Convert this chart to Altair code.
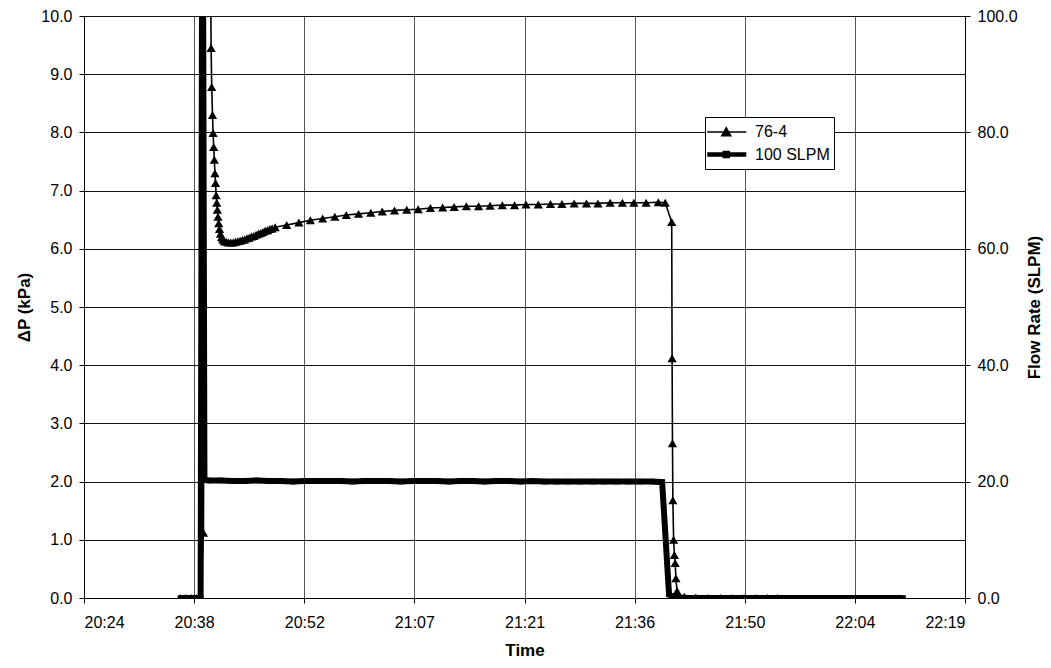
import altair as alt
import pandas as pd

# ---------------- data ----------------
# time is given in minutes after 20:24
series_names = ["76-4", "100 SLPM"]

dp_time = [12.6, 13.3, 14.0, 14.7, 15.25, 15.62, 15.9, 16.5,
           16.62, 16.70, 16.80, 16.88, 16.96, 17.04, 17.12, 17.20, 17.28, 17.36, 17.44, 17.52,
           17.62, 17.72, 17.84, 17.98,
           18.15, 18.35, 18.6, 18.9, 19.2, 19.5, 19.8, 20.1, 20.4, 20.7, 21.0, 21.3, 21.6, 21.9,
           22.2, 22.5, 22.8, 23.1, 23.4, 23.7, 24.0, 24.3, 24.6, 25.0,
           26.5, 28.1, 29.6, 31.2, 32.8, 34.3, 35.9, 37.5, 39.0, 40.6, 42.2, 43.7, 45.3, 46.9,
           48.4, 50.0, 51.6, 53.1, 54.7, 56.3, 57.8, 59.4, 61.0, 62.5, 64.1, 65.7, 67.2, 68.8,
           70.4, 71.9, 73.5, 75.1,
           76.0, 76.85, 76.9, 76.95, 77.0, 77.1, 77.2, 77.3, 77.4, 77.55, 77.7,
           78.5, 80.0, 81.6, 83.2, 84.7, 86.3, 87.9, 89.4, 90.7]
dp_kpa = [0.0, 0.0, 0.0, 0.0, 0.0, 1.12, 16.0, 12.0,
          9.45, 8.78, 8.30, 7.99, 7.75, 7.53, 7.30, 7.13, 6.92, 6.79, 6.67, 6.55,
          6.44, 6.34, 6.26, 6.20,
          6.16, 6.13, 6.12, 6.11, 6.11, 6.11, 6.12, 6.13, 6.14, 6.15, 6.16, 6.18, 6.19, 6.21,
          6.22, 6.24, 6.26, 6.27, 6.29, 6.31, 6.32, 6.34, 6.35, 6.37,
          6.41, 6.45, 6.49, 6.52, 6.55, 6.58, 6.60, 6.62, 6.64, 6.66, 6.67, 6.68, 6.70, 6.71,
          6.72, 6.73, 6.73, 6.74, 6.75, 6.75, 6.76, 6.76, 6.77, 6.77, 6.78, 6.78, 6.78, 6.79,
          6.79, 6.79, 6.79, 6.80,
          6.79, 6.46, 4.12, 2.66, 1.68, 1.00, 0.74, 0.60, 0.34, 0.12, 0.04,
          0.02, 0.01, 0.0, 0.0, 0.0, 0.0, 0.0, 0.0, 0.0]

flow_time = [12.6, 13.3, 14.0, 14.7, 15.25, 15.5, 15.75,
             16.3, 17.9, 19.5, 21.0, 22.6, 24.2, 25.7, 27.3, 28.9, 30.4, 32.0, 33.6, 35.1,
             36.7, 38.3, 39.8, 41.4, 43.0, 44.5, 46.1, 47.7, 49.2, 50.8, 52.4, 53.9, 55.5,
             57.1, 58.6, 60.2, 61.8, 63.3, 64.9, 66.5, 68.0, 69.6, 71.2, 72.7, 74.3, 75.6,
             76.5, 77.0, 77.6,
             79.2, 80.7, 82.3, 83.9, 85.4, 87.0, 88.6, 90.1, 91.7, 93.3, 94.8, 96.4, 98.0,
             99.5, 101.1, 102.7, 104.2, 105.8, 107.1]
flow_slpm = [0.0, 0.0, 0.0, 0.0, 0.0, 140.0, 20.3,
             20.2, 20.2, 20.1, 20.1, 20.2, 20.1, 20.1, 20.0, 20.1, 20.1, 20.1, 20.1, 20.0,
             20.1, 20.1, 20.1, 20.0, 20.1, 20.1, 20.1, 20.0, 20.1, 20.1, 20.0, 20.1, 20.1,
             20.0, 20.1, 20.0, 20.0, 20.0, 20.0, 20.0, 20.0, 20.0, 20.0, 20.0, 20.0, 19.9,
             0.6, 0.3, 0.1,
             0.0, 0.0, 0.0, 0.0, 0.0, 0.0, 0.0, 0.0, 0.0, 0.0, 0.0, 0.0, 0.0,
             0.0, 0.0, 0.0, 0.0, 0.0, 0.0]

x_tick_values = [0.0, 14.4, 28.8, 43.2, 57.6, 72.0, 86.4, 100.8, 115.2]
dp_ticks = [0, 1, 2, 3, 4, 5, 6, 7, 8, 9, 10]
flow_ticks = [0, 20, 40, 60, 80, 100]

df = pd.concat([
    pd.DataFrame({"t": dp_time, "val": dp_kpa, "series": series_names[0]}),
    pd.DataFrame({"t": flow_time, "val": flow_slpm, "series": series_names[1]}),
], ignore_index=True)

FONT = "Liberation Sans"

label_expr = ("floor((1224 + datum.value) / 60) + ':' + "
              "(floor((1224 + datum.value) % 60) < 10 ? '0' : '') + "
              "floor((1224 + datum.value) % 60)")

x_enc = alt.X("t:Q",
              scale=alt.Scale(domain=[0, 115.2], nice=False, zero=False),
              axis=alt.Axis(values=x_tick_values, labelExpr=label_expr, title="Time",
                            grid=True, gridColor="#555555", gridWidth=1,
                            tickSize=5, labelPadding=11, titlePadding=12,
                            labelFontSize=16, titleFontSize=17))

y_left = alt.Y("val:Q",
               scale=alt.Scale(domain=[0, 10], nice=False, zero=False),
               axis=alt.Axis(orient="left", values=dp_ticks, format=".1f", title="ΔP (kPa)",
                             grid=True, gridColor="#111111", gridWidth=1,
                             tickSize=5, labelPadding=7, titlePadding=7,
                             labelFontSize=16, titleFontSize=17))

y_right = alt.Y("val:Q",
                scale=alt.Scale(domain=[0, 100], nice=False, zero=False),
                axis=alt.Axis(orient="right", values=flow_ticks, format=".1f",
                              title="Flow Rate (SLPM)", grid=False,
                              titleAngle=270, titleBaseline="top",
                              tickSize=5, labelPadding=7, titlePadding=9,
                              labelFontSize=16, titleFontSize=17))

base = alt.Chart(df)

dp_base = base.transform_filter(alt.datum.series == series_names[0])
flow_base = base.transform_filter(alt.datum.series == series_names[1])

dp_line = dp_base.mark_line(color="black", strokeWidth=1.6, clip=True).encode(x=x_enc, y=y_left)
dp_pts = dp_base.mark_point(shape="triangle-up", filled=True, color="black", size=85,
                            opacity=1, clip=True).encode(x="t:Q", y="val:Q")

path_tri = "M-1.425,0L2.475,0M0.025,0.38L0.475,-0.42L0.925,0.38Z"
path_sq = "M-1.425,0L2.475,0M0.325,-0.15L0.625,-0.15L0.625,0.15L0.325,0.15Z"

leg = alt.Legend(title=None, orient="none", legendX=621, legendY=101, direction="vertical",
                 symbolSize=400, labelOffset=21, labelFontSize=16, labelFont=FONT,
                 labelColor="black", strokeColor="black", fillColor="white", padding=4,
                 rowPadding=2, symbolFillColor="black", symbolStrokeColor="black",
                 symbolOpacity=1, cornerRadius=0)

legend_layer = base.transform_filter("datum.val > 10").mark_point(
    filled=True, fill="black", opacity=1, clip=True
).encode(
    x="t:Q", y="val:Q",
    shape=alt.Shape("series:N", scale=alt.Scale(domain=series_names, range=[path_tri, path_sq]),
                    legend=leg),
    strokeWidth=alt.StrokeWidth("series:N", scale=alt.Scale(domain=series_names, range=[1.5, 4.5]),
                                legend=leg),
    stroke=alt.Stroke("series:N", scale=alt.Scale(domain=series_names, range=["black", "black"]),
                      legend=leg),
)

flow_line = flow_base.mark_line(color="black", strokeWidth=6, clip=True).encode(x=x_enc, y=y_right)
flow_pts = flow_base.mark_point(shape="square", filled=True, color="black", size=30,
                                opacity=1, clip=True).encode(x="t:Q", y="val:Q")

left_group = alt.layer(dp_line, dp_pts, legend_layer)
right_group = alt.layer(flow_line, flow_pts)

chart = alt.layer(left_group, right_group).resolve_scale(y="independent").properties(
    width=881, height=582,
    autosize=alt.AutoSizeParams(type="none"),
    padding={"left": 76, "top": 8, "right": 78, "bottom": 62},
    background="white",
).configure_view(
    stroke="black", strokeWidth=1
).configure_axis(
    labelFont=FONT, titleFont=FONT, labelColor="black", titleColor="black",
    titleFontWeight="bold", domainColor="black", tickColor="black", domainWidth=1,
)

chart.save("out.html", embed_options={"renderer": "svg", "actions": False})
